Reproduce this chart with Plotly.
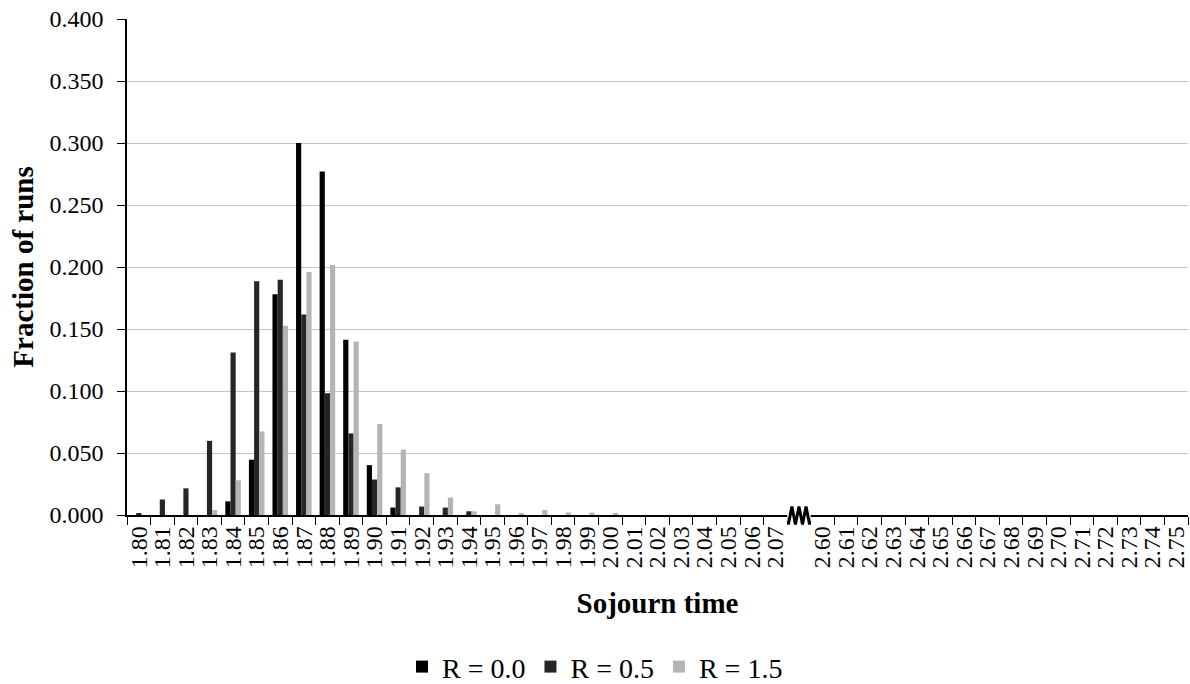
import plotly.graph_objects as go

categories = ["1.80", "1.81", "1.82", "1.83", "1.84", "1.85", "1.86", "1.87", "1.88", "1.89",
              "1.90", "1.91", "1.92", "1.93", "1.94", "1.95", "1.96", "1.97", "1.98", "1.99",
              "2.00", "2.01", "2.02", "2.03", "2.04", "2.05", "2.06", "2.07", " ",
              "2.60", "2.61", "2.62", "2.63", "2.64", "2.65", "2.66", "2.67", "2.68", "2.69",
              "2.70", "2.71", "2.72", "2.73", "2.74", "2.75"]

r00 = [0, 0, 0, 0, 0.011, 0.0446, 0.178, 0.300, 0.277, 0.1414,
       0.0402, 0.006, 0, 0, 0, 0, 0, 0, 0, 0,
       0, 0, 0, 0, 0, 0, 0, 0, 0,
       0, 0, 0, 0, 0, 0, 0, 0, 0, 0, 0, 0, 0, 0, 0, 0]
r05 = [0.001, 0.0125, 0.0215, 0.0598, 0.131, 0.1886, 0.1897, 0.1616, 0.0982, 0.0658,
       0.0286, 0.0223, 0.0068, 0.006, 0.003, 0, 0, 0, 0, 0,
       0, 0, 0, 0, 0, 0, 0, 0, 0,
       0, 0, 0, 0, 0, 0, 0, 0, 0, 0, 0, 0, 0, 0, 0, 0]
r15 = [0, 0, 0, 0.004, 0.028, 0.0674, 0.1527, 0.1959, 0.2016, 0.140,
       0.0734, 0.0527, 0.0337, 0.0141, 0.003, 0.0087, 0.001, 0.004, 0.002, 0.002,
       0.001, 0, 0, 0, 0, 0, 0, 0, 0,
       0, 0, 0, 0, 0, 0, 0, 0, 0, 0, 0, 0, 0, 0, 0, 0]

series = [("R = 0.0", r00, "#000000"), ("R = 0.5", r05, "#262626"), ("R = 1.5", r15, "#b4b4b4")]

FONT = "Liberation Serif, Times New Roman, serif"

fig = go.Figure()
for name, vals, col in series:
    fig.add_trace(go.Bar(x=categories, y=vals, name=name, marker=dict(color=col, line=dict(width=0))))

gap_index = categories.index(" ")

fig.update_layout(
    width=1190, height=684,
    margin=dict(l=127, r=2, t=19, b=169),
    paper_bgcolor="white", plot_bgcolor="white",
    font=dict(family=FONT, color="black", size=22),
    barmode="group", bargap=0.34, bargroupgap=0,
    showlegend=True,
    legend=dict(orientation="h", xref="container", yref="container", x=0.5, y=0.025,
                xanchor="center", yanchor="middle", font=dict(size=28, family=FONT),
                itemwidth=30, tracegroupgap=0),
    xaxis=dict(type="category", categoryorder="array", categoryarray=categories,
               tickmode="array", tickvals=categories, ticktext=categories,
               tickson="boundaries", ticks="outside", ticklen=8, tickcolor="black",
               tickangle=-90, tickfont=dict(size=24, family=FONT), automargin=False,
               showline=True, linecolor="black", linewidth=1.5, showgrid=False,
               range=[-0.5, len(categories) - 0.5],
               title=dict(text="<b>Sojourn time</b>", font=dict(size=29, family=FONT), standoff=25)),
    yaxis=dict(range=[0, 0.4], dtick=0.05, tickformat=".3f", ticks="outside", ticklen=8,
               tickcolor="black", showline=True, linecolor="black", linewidth=1.5,
               showgrid=True, gridcolor="#c4c4c4", gridwidth=1.2, zeroline=False,
               tickfont=dict(size=24, family=FONT), ticklabelstandoff=9, automargin=False,
               title=dict(text="<b>Fraction of runs</b>", font=dict(size=29, family=FONT), standoff=7)),
)

# axis break marker (zigzag) over the gap category
x0 = gap_index - 0.45
w = 0.9
pts = []
n = 6
for i in range(n + 1):
    xx = x0 + w * i / n
    yy = -0.019 if i % 2 == 0 else 0.017
    pts.append((xx, yy))
fig.add_shape(type="rect", xref="x", yref="paper", x0=gap_index - 0.5, x1=gap_index + 0.5,
              y0=-0.012, y1=0.006, fillcolor="white", line=dict(width=0), layer="above")
path = "M " + " L ".join(f"{px},{py}" for px, py in pts)
fig.add_shape(type="path", xref="x", yref="paper", path=path,
              line=dict(color="black", width=3), layer="above")

fig.write_html("out.html", config={"displayModeBar": False},
               post_script="document.body.style.margin='0';")
